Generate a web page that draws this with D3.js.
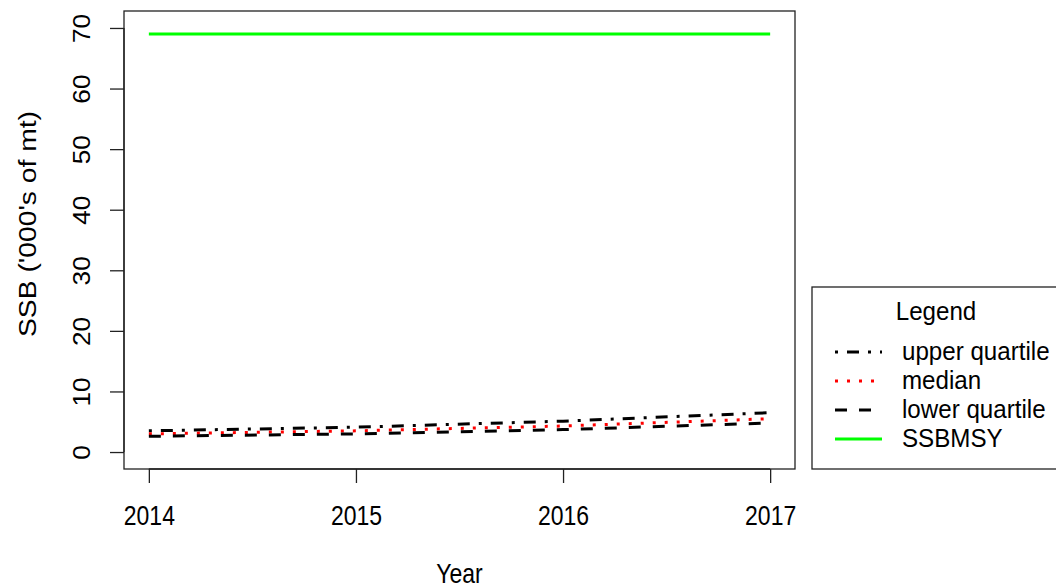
<!DOCTYPE html>
<html>
<head>
<meta charset="utf-8">
<script src="https://cdn.jsdelivr.net/npm/d3@7"></script>
<style>
  html, body { margin: 0; padding: 0; background: #fff; }
  svg { display: block; font-family: "Liberation Sans", Arial, sans-serif; }
</style>
</head>
<body>
<svg id="chart" width="1056" height="588"></svg>
<script>
// Projected spawning stock biomass ('000s of mt) by year
const years = [2014, 2015, 2016, 2017];
const upperQuartile = [3.5, 4.1, 5.1, 6.5];
const median = [3.0, 3.5, 4.3, 5.5];
const lowerQuartile = [2.6, 3.0, 3.7, 4.8];
const ssbMsy = [69, 69, 69, 69];

const yTicks = [0, 10, 20, 30, 40, 50, 60, 70];
const xTicks = [2014, 2015, 2016, 2017];

const legendLabels = ["upper quartile", "median", "lower quartile", "SSBMSY"];

const svg = d3.select("#chart");

// plot region (box)
const box = { left: 124, right: 795, top: 11, bottom: 469 };

// 4% padding on each axis
const xPad = (2017 - 2014) * 0.04;
const yPad = (70 - 0) * 0.04;
const x = d3.scaleLinear().domain([2014 - xPad, 2017 + xPad]).range([box.left, box.right]);
const y = d3.scaleLinear().domain([0 - yPad, 70 + yPad]).range([box.bottom, box.top]);

const series = [
  { name: "upper quartile", values: upperQuartile, color: "#000", dash: "3,9,12,9" },
  { name: "median", values: median, color: "#ff0000", dash: "3,9" },
  { name: "lower quartile", values: lowerQuartile, color: "#000", dash: "12,12" },
  { name: "SSBMSY", values: ssbMsy, color: "#00ff00", dash: null }
];

const line = d3.line().x(d => x(d[0])).y(d => y(d[1]));

// series lines
series.forEach(s => {
  svg.append("path")
    .datum(years.map((yr, i) => [yr, s.values[i]]))
    .attr("d", line)
    .attr("fill", "none")
    .attr("stroke", s.color)
    .attr("stroke-width", 3)
    .attr("stroke-dasharray", s.dash);
});

// plot box
svg.append("rect")
  .attr("x", box.left).attr("y", box.top)
  .attr("width", box.right - box.left).attr("height", box.bottom - box.top)
  .attr("fill", "none").attr("stroke", "#222").attr("stroke-width", 1.3);

const fontSize = 23;
const tickLen = 14;
const stretch = 1.2; // glyphs are drawn taller than wide

// x axis
const xAxis = svg.append("g")
  .attr("transform", `translate(0,${box.bottom})`)
  .call(d3.axisBottom(x).tickValues(xTicks).tickFormat(d3.format("d")).tickSize(tickLen).tickPadding(0));
xAxis.select(".domain")
  .attr("d", `M${x(xTicks[0])},0H${x(xTicks[xTicks.length - 1])}`)
  .attr("stroke", "#222").attr("stroke-width", 1.3);
xAxis.selectAll(".tick line").attr("stroke", "#222").attr("stroke-width", 1.3);
xAxis.selectAll(".tick text")
  .attr("y", 0).attr("dy", null)
  .attr("transform", `translate(0,56) scale(1,${stretch})`)
  .attr("font-size", fontSize).attr("font-family", "Liberation Sans, Arial, sans-serif")
  .attr("fill", "#000");

// y axis
const yAxis = svg.append("g")
  .attr("transform", `translate(${box.left},0)`)
  .call(d3.axisLeft(y).tickValues(yTicks).tickSize(tickLen));
yAxis.select(".domain")
  .attr("d", `M0,${y(yTicks[0])}V${y(yTicks[yTicks.length - 1])}`)
  .attr("stroke", "#222").attr("stroke-width", 1.3);
yAxis.selectAll(".tick line").attr("stroke", "#222").attr("stroke-width", 1.3);
yAxis.selectAll(".tick text")
  .attr("x", null).attr("dy", null)
  .attr("transform", `translate(-34,0) rotate(-90) scale(${stretch * 0.95},1)`)
  .attr("text-anchor", "middle")
  .attr("font-size", fontSize).attr("font-family", "Liberation Sans, Arial, sans-serif")
  .attr("fill", "#000");

// axis titles
svg.append("text")
  .attr("transform", `translate(${(box.left + box.right) / 2},583) scale(1,${stretch})`)
  .attr("text-anchor", "middle").attr("font-size", fontSize)
  .text("Year");

svg.append("text")
  .attr("transform", `translate(36,${(box.top + box.bottom) / 2 - 16}) rotate(-90) scale(1.23,1)`)
  .attr("text-anchor", "middle").attr("font-size", fontSize)
  .text("SSB ('000's of mt)");

// legend
const legend = svg.append("g");
legend.append("rect")
  .attr("x", 812).attr("y", 287).attr("width", 260).attr("height", 182)
  .attr("fill", "#fff").attr("stroke", "#222").attr("stroke-width", 1.3);
legend.append("text")
  .attr("transform", `translate(936,320) scale(1.05,1.1)`)
  .attr("text-anchor", "middle").attr("font-size", 23)
  .text("Legend");

const rowY = d3.scalePoint().domain(legendLabels).range([352, 439]);
series.forEach(s => {
  const ry = rowY(s.name);
  legend.append("line")
    .attr("x1", 835).attr("x2", 882).attr("y1", ry).attr("y2", ry)
    .attr("stroke", s.color).attr("stroke-width", 3)
    .attr("stroke-dasharray", s.dash);
  legend.append("text")
    .attr("transform", `translate(902,${ry + 8}) scale(1.05,1.1)`)
    .attr("font-size", 23)
    .text(s.name);
});
</script>
</body>
</html>
